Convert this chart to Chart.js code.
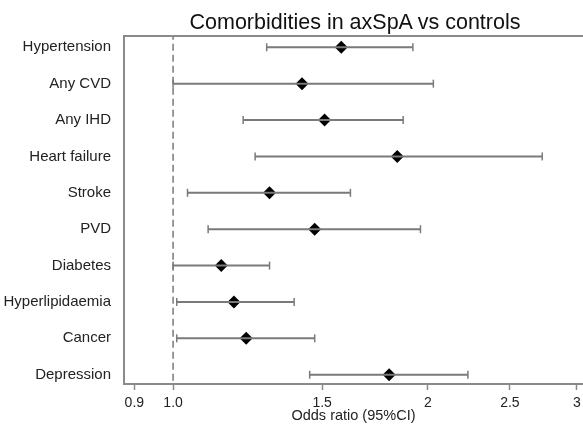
<!DOCTYPE html>
<html>
<head>
<meta charset="utf-8">
<script src="https://cdn.jsdelivr.net/npm/chart.js@4/dist/chart.umd.min.js"></script>
<style>
    html, body { margin: 0; padding: 0; background: #fff; overflow: hidden; }
    #wrap { position: relative; width: 583px; height: 425px; }
    #title {
        position: absolute;
        top: 9px;
        left: 105px;
        width: 500px;
        text-align: center;
        font: 21.5px "Liberation Sans", Arial, sans-serif;
        line-height: 26px;
        color: #111;
    }
</style>
</head>
<body>
<div id="wrap">
    <div id="title">Comorbidities in axSpA vs controls</div>
    <canvas id="chart" width="583" height="425"></canvas>
</div>
<script>
const labels = ['Hypertension', 'Any CVD', 'Any IHD', 'Heart failure', 'Stroke', 'PVD', 'Diabetes', 'Hyperlipidaemia', 'Cancer', 'Depression']
const oddsRatio = [1.58, 1.42, 1.51, 1.84, 1.30, 1.47, 1.14, 1.18, 1.22, 1.80]
const lowerCI = [1.29, 1.00, 1.21, 1.25, 1.04, 1.10, 1.00, 1.01, 1.01, 1.45]
const upperCI = [1.92, 2.03, 1.87, 2.73, 1.62, 1.96, 1.30, 1.39, 1.47, 2.23]
const xTickValues = [0.9, 1.0, 1.5, 2, 2.5, 3]
const xTickLabels = ['0.9', '1.0', '1.5', '2', '2.5', '3']

const gray = '#8a8a8a'
const font = '"Liberation Sans", Arial, sans-serif'

// whiskers: one segment per row, broken by null points
const whiskers = []
labels.forEach((_, i) => {
    whiskers.push({ x: lowerCI[i], y: i }, { x: upperCI[i], y: i }, { x: null, y: null })
})

const frameTop = {
    id: 'frameTop',
    afterDraw(chart) {
        const { ctx, chartArea } = chart
        ctx.save()
        ctx.strokeStyle = gray
        ctx.lineWidth = 2
        ctx.beginPath()
        ctx.moveTo(chartArea.left, chartArea.top)
        ctx.lineTo(chartArea.right, chartArea.top)
        ctx.stroke()
        ctx.restore()
    }
}

new Chart(document.getElementById('chart'), {
    type: 'scatter',
    data: {
        datasets: [
            {
                data: [{ x: 1, y: -0.4 }, { x: 1, y: 9.4 }],
                showLine: true,
                borderColor: '#7a7a7a',
                borderWidth: 1.5,
                borderDash: [7, 4],
                pointRadius: 0
            },
            {
                data: whiskers,
                showLine: true,
                spanGaps: false,
                borderColor: '#7a7a7a',
                borderWidth: 2,
                pointStyle: 'line',
                rotation: 90,
                pointRadius: 4,
                pointBorderColor: '#7a7a7a',
                pointBorderWidth: 1.5
            },
            {
                data: oddsRatio.map((v, i) => ({ x: v, y: i })),
                pointStyle: 'rectRot',
                pointRadius: 6.5,
                backgroundColor: '#000',
                borderColor: '#000',
                borderWidth: 0
            }
        ]
    },
    options: {
        responsive: false,
        animation: false,
        devicePixelRatio: 1,
        layout: { autoPadding: false, padding: { top: 36, left: 0, right: 0, bottom: 0 } },
        plugins: { legend: { display: false }, tooltip: { enabled: false }, title: { display: false } },
        scales: {
            x: {
                type: 'logarithmic',
                min: 0.875,
                max: 3.05,
                afterBuildTicks: scale => { scale.ticks = xTickValues.map(v => ({ value: v })) },
                afterFit: scale => {
                    scale.height = 41
                    scale.paddingLeft = 0
                    scale.paddingRight = 0
                },
                ticks: {
                    autoSkip: false,
                    maxRotation: 0,
                    padding: 5,
                    color: '#222',
                    font: { family: font, size: 14 },
                    callback: (value, index) => xTickLabels[index]
                },
                grid: { drawOnChartArea: false, drawTicks: true, tickLength: 6, tickColor: gray, tickWidth: 1.5 },
                border: { display: true, color: gray, width: 2 },
                title: {
                    display: true,
                    text: 'Odds ratio (95%CI)',
                    color: '#222',
                    font: { family: font, size: 14.5 },
                    padding: { top: 0, bottom: 0 }
                }
            },
            y: {
                type: 'linear',
                reverse: true,
                min: -0.31,
                max: 9.255,
                afterBuildTicks: scale => { scale.ticks = labels.map((_, i) => ({ value: i })) },
                afterFit: scale => {
                    scale.width = 124
                    scale.paddingTop = 0
                    scale.paddingBottom = 0
                },
                ticks: {
                    autoSkip: false,
                    padding: 5,
                    color: '#222',
                    font: { family: font, size: 15 },
                    callback: value => labels[value]
                },
                grid: { display: false },
                border: { display: true, color: gray, width: 2 }
            }
        }
    },
    plugins: [frameTop]
})
</script>
</body>
</html>
